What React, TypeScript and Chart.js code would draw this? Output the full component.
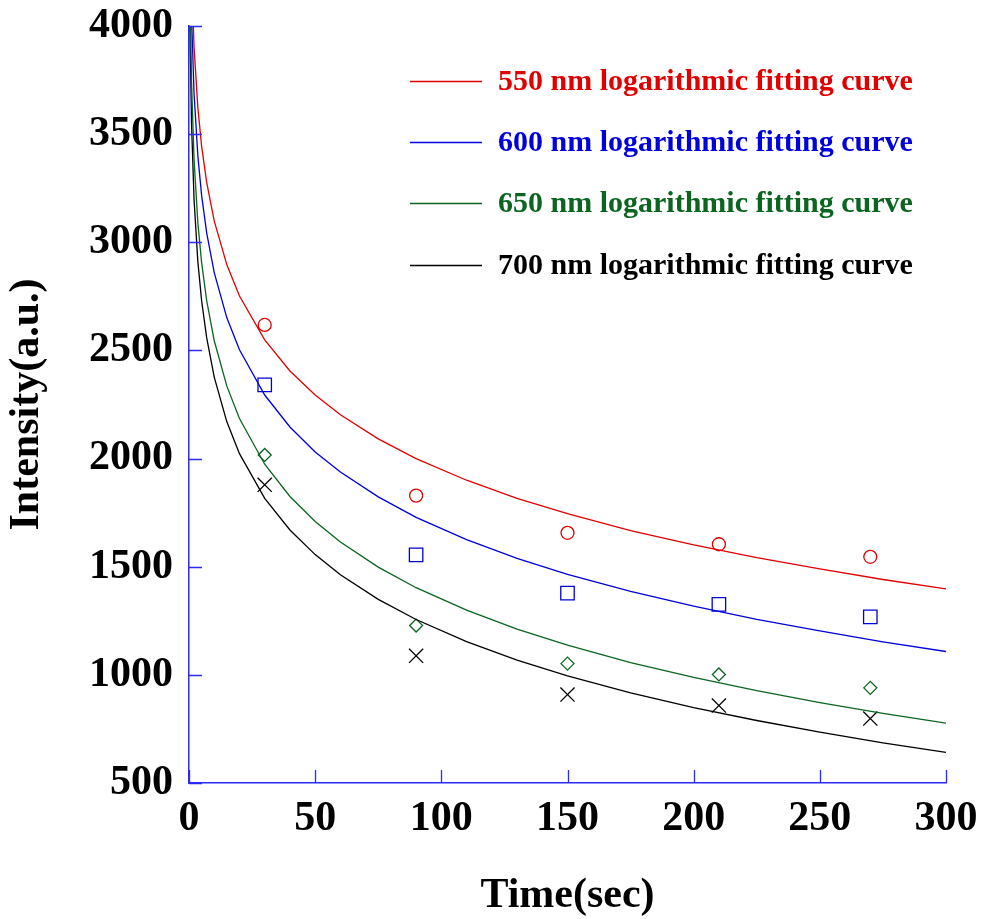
import React, { useEffect, useRef } from "react";
import { Chart, registerables } from "chart.js";

Chart.register(...registerables);

// Fitted-curve sample times (sec) and curve values
const curveTimes = [0.3, 0.5, 1, 2, 3.5, 5, 7, 10, 15, 20, 30, 40, 50, 60, 75, 90, 110, 130, 150, 175, 200, 225, 250, 275, 300];
const curve550 = [4852, 4597, 4250, 3903, 3623, 3445, 3277, 3099, 2896, 2752, 2549, 2405, 2294, 2203, 2091, 2000, 1900, 1816, 1745, 1667, 1601, 1542, 1490, 1441, 1398];
const curve600 = [4666, 4403, 4046, 3689, 3401, 3217, 3044, 2860, 2651, 2503, 2294, 2146, 2031, 1938, 1823, 1728, 1625, 1539, 1465, 1386, 1318, 1257, 1203, 1153, 1108];
const curve650 = [4369, 4103, 3743, 3383, 3091, 2906, 2731, 2545, 2335, 2185, 1974, 1825, 1709, 1614, 1498, 1403, 1299, 1212, 1137, 1057, 988, 927, 872, 822, 777];
const curve700 = [4165, 3905, 3551, 3198, 2912, 2730, 2559, 2377, 2170, 2023, 1816, 1670, 1556, 1463, 1349, 1256, 1154, 1068, 995, 917, 849, 789, 735, 686, 642];

// Measured points
const measTimes = [30, 90, 150, 210, 270];
const meas550 = [2618, 1829, 1657, 1604, 1546];
const meas600 = [2341, 1555, 1378, 1326, 1268];
const meas650 = [2017, 1228, 1052, 1002, 940];
const meas700 = [1879, 1088, 909, 858, 798];

const legendLabels = [
  "550 nm logarithmic fitting curve",
  "600 nm logarithmic fitting curve",
  "650 nm logarithmic fitting curve",
  "700 nm logarithmic fitting curve",
];

const RED = "#e00000";
const BLUE = "#0000dd";
const GREEN = "#0b6420";
const BLACK = "#000000";
const AXIS = "#2b2bff";
const FONT = "'Times New Roman', 'Liberation Serif', serif";

const pairs = (xs: number[], ys: number[]) => xs.map((x, i) => ({ x, y: ys[i] }));

const innerTicks = {
  id: "innerTicks",
  afterDatasetsDraw(chart: any) {
    const { ctx, chartArea, scales } = chart;
    ctx.save();
    ctx.strokeStyle = AXIS;
    ctx.lineWidth = 1.3;
    ctx.beginPath();
    scales.x.ticks.forEach((t: any) => {
      const px = Math.round(scales.x.getPixelForValue(t.value)) + 0.5;
      ctx.moveTo(px, chartArea.bottom);
      ctx.lineTo(px, chartArea.bottom - 13);
    });
    scales.y.ticks.forEach((t: any) => {
      const py = Math.round(scales.y.getPixelForValue(t.value)) + 0.5;
      ctx.moveTo(chartArea.left, py);
      ctx.lineTo(chartArea.left + 13, py);
    });
    ctx.stroke();
    ctx.restore();
  },
};

const customLegend = {
  id: "customLegend",
  afterDraw(chart: any) {
    const { ctx } = chart;
    const rows = [81, 142, 203, 265];
    ctx.save();
    chart.data.datasets.forEach((ds: any, i: number) => {
      if (!ds.legendText) return;
      const y = rows[i];
      ctx.strokeStyle = ds.borderColor;
      ctx.lineWidth = 1.3;
      ctx.beginPath();
      ctx.moveTo(410, y + 0.5);
      ctx.lineTo(482, y + 0.5);
      ctx.stroke();
      ctx.fillStyle = ds.borderColor;
      ctx.font = `bold 30px ${FONT}`;
      ctx.textBaseline = "middle";
      ctx.textAlign = "left";
      ctx.fillText(ds.legendText, 498, y + 1);
    });
    ctx.restore();
  },
};

export default function App() {
  const ref = useRef<HTMLCanvasElement>(null);

  useEffect(() => {
    if (!ref.current) return;
    const lineDs = (label: string, data: number[], color: string) => ({
      type: "line" as const,
      label,
      legendText: label,
      data: pairs(curveTimes, data),
      borderColor: color,
      backgroundColor: color,
      borderWidth: 1.3,
      pointRadius: 0,
      tension: 0,
      fill: false,
    });
    const markDs = (label: string, data: number[], color: string, style: string, r: number) => ({
      type: "scatter" as const,
      label,
      data: pairs(measTimes, data),
      borderColor: color,
      backgroundColor: "rgba(0,0,0,0)",
      borderWidth: 1.3,
      pointStyle: style,
      pointRadius: r,
      pointHoverRadius: r,
      showLine: false,
    });
    const chart = new Chart(ref.current, {
      type: "line",
      data: {
        datasets: [
          lineDs(legendLabels[0], curve550, RED),
          lineDs(legendLabels[1], curve600, BLUE),
          lineDs(legendLabels[2], curve650, GREEN),
          lineDs(legendLabels[3], curve700, BLACK),
          markDs("550 nm", meas550, RED, "circle", 6.5),
          markDs("600 nm", meas600, BLUE, "rect", 9.5),
          markDs("650 nm", meas650, GREEN, "rectRot", 6.5),
          markDs("700 nm", meas700, BLACK, "crossRot", 10),
        ] as any,
      },
      options: {
        animation: false,
        responsive: false,
        layout: { padding: { top: 0, right: 46, left: 0, bottom: 0 } },
        plugins: { legend: { display: false }, tooltip: { enabled: false } },
        scales: {
          x: {
            type: "linear",
            min: 0,
            max: 300,
            grid: { display: false },
            border: { display: true, color: AXIS, width: 1.5 },
            ticks: {
              stepSize: 50,
              color: "#000",
              padding: 3,
              font: { family: FONT, size: 42, weight: "bold" },
              maxRotation: 0,
              callback: (v: any) => String(v),
            },
            title: {
              display: true,
              text: "Time(sec)",
              color: "#000",
              font: { family: FONT, size: 42, weight: "bold", lineHeight: 1.1 },
              padding: { top: 0, bottom: 0 },
            },
            afterFit: (s: any) => {
              s.height = 136;
            },
          },
          y: {
            type: "linear",
            min: 500,
            max: 4000,
            grid: { display: false },
            border: { display: true, color: AXIS, width: 1.5 },
            ticks: {
              stepSize: 500,
              color: "#000",
              padding: 8,
              font: { family: FONT, size: 42, weight: "bold", lineHeight: 0.86 },
              callback: (v: any) => String(v),
            },
            title: {
              display: true,
              text: "Intensity(a.u.)",
              color: "#000",
              font: { family: FONT, size: 42, weight: "bold", lineHeight: 1.1 },
              padding: { top: 4, bottom: 0 },
            },
            afterFit: (s: any) => {
              s.width = 189;
            },
          },
        },
      } as any,
      plugins: [innerTicks, customLegend],
    });
    return () => chart.destroy();
  }, []);

  return (
    <div style={{ position: "absolute", left: 0, top: 0, width: 992, height: 919, background: "#fff" }}>
      <canvas ref={ref} width={992} height={919} style={{ display: "block" }} />
    </div>
  );
}
